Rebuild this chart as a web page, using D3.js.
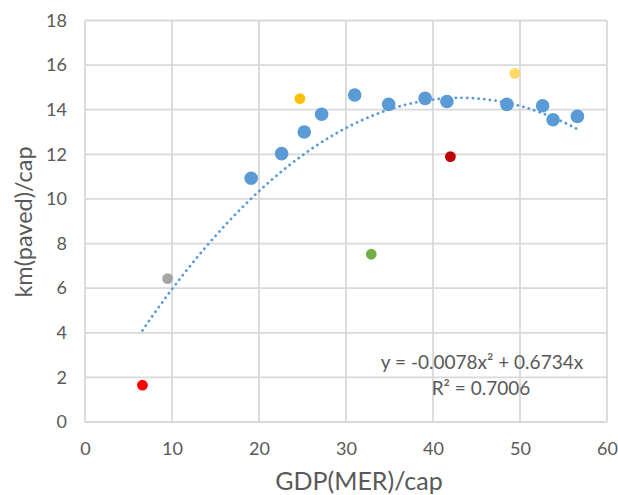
<!DOCTYPE html>
<html>
<head>
<meta charset="utf-8">
<script src="https://cdn.jsdelivr.net/npm/d3@7"></script>
<style>
  html, body { margin: 0; padding: 0; background: #fff; }
  svg { display: block; font-family: Lato, "Open Sans", sans-serif; }
</style>
</head>
<body>
<svg id="chart" width="618" height="495"></svg>
<script>
// GDP(MER) per capita vs paved km per capita, one group per marker colour
const blueX   = [19.1, 22.6, 25.2, 27.2, 31.0, 34.9, 39.1, 41.6, 48.5, 52.6, 53.8, 56.6];
const blueY   = [10.93, 12.03, 13.0, 13.8, 14.66, 14.24, 14.51, 14.37, 14.24, 14.18, 13.55, 13.7];
const orangeX = [24.7];
const orangeY = [14.5];
const goldX   = [49.4];
const goldY   = [15.63];
const redX    = [6.6];
const redY    = [1.65];
const darkRedX = [42.0];
const darkRedY = [11.9];
const grayX   = [9.5];
const grayY   = [6.43];
const greenX  = [32.9];
const greenY  = [7.52];

// polynomial trendline (order 2, through origin)
const trendA = -0.0078;
const trendB = 0.6734;
const trendRange = [6.6, 56.6];
const trendLabel = ["y = -0.0078x² + 0.6734x", "R² = 0.7006"];

const xTicks = [0, 10, 20, 30, 40, 50, 60];
const yTicks = [0, 2, 4, 6, 8, 10, 12, 14, 16, 18];

const svg = d3.select("#chart");
const plotL = 85, plotR = 607, plotT = 20.5, plotB = 422;

const x = d3.scaleLinear().domain([0, 60]).range([plotL, plotR]);
const y = d3.scaleLinear().domain([0, 18]).range([plotB, plotT]);

const grid = "#d9d9d9";
const textCol = "#595959";

// gridlines
svg.append("g").selectAll("line").data(xTicks).join("line")
  .attr("x1", d => x(d)).attr("x2", d => x(d))
  .attr("y1", plotT).attr("y2", plotB)
  .attr("stroke", grid).attr("stroke-width", 1.8);
svg.append("g").selectAll("line").data(yTicks).join("line")
  .attr("x1", plotL).attr("x2", plotR)
  .attr("y1", d => y(d)).attr("y2", d => y(d))
  .attr("stroke", grid).attr("stroke-width", 1.8);

// axes (labels only, lines come from the grid)
const xAxis = svg.append("g").attr("transform", `translate(0,${plotB})`)
  .call(d3.axisBottom(x).tickValues(xTicks).tickSize(0).tickPadding(20));
const yAxis = svg.append("g").attr("transform", `translate(${plotL},0)`)
  .call(d3.axisLeft(y).tickValues(yTicks).tickSize(0).tickPadding(18));
[xAxis, yAxis].forEach(a => {
  a.select(".domain").remove();
  a.selectAll("text").attr("fill", textCol).style("font-size", "18px")
    .style("font-family", "Lato, 'Open Sans', sans-serif");
});

// trendline
const tx = d3.range(trendRange[0], trendRange[1] + 0.01, 0.25);
svg.append("path")
  .datum(tx)
  .attr("d", d3.line().x(d => x(d)).y(d => y(trendA * d * d + trendB * d)))
  .attr("fill", "none")
  .attr("stroke", "#5b9bd5")
  .attr("stroke-width", 2.8)
  .attr("stroke-linecap", "round")
  .attr("stroke-dasharray", "0.1 5.6");

// markers
const groups = [
  { xs: blueX, ys: blueY, color: "#5b9bd5", r: 6.8 },
  { xs: orangeX, ys: orangeY, color: "#ffc000", r: 5.4 },
  { xs: goldX, ys: goldY, color: "#ffd966", r: 5.4 },
  { xs: redX, ys: redY, color: "#ff0000", r: 5.4 },
  { xs: darkRedX, ys: darkRedY, color: "#c00000", r: 5.4 },
  { xs: grayX, ys: grayY, color: "#a5a5a5", r: 5.4 },
  { xs: greenX, ys: greenY, color: "#70ad47", r: 5.4 }
];
groups.forEach(g => {
  svg.append("g").selectAll("circle")
    .data(g.xs.map((v, i) => [v, g.ys[i]]))
    .join("circle")
    .attr("cx", d => x(d[0])).attr("cy", d => y(d[1]))
    .attr("r", g.r).attr("fill", g.color);
});

// trendline equation
svg.append("text")
  .attr("x", 482).attr("y", 369)
  .attr("text-anchor", "middle")
  .attr("fill", textCol).style("font-size", "19px")
  .text(trendLabel[0]);
svg.append("text")
  .attr("x", 481).attr("y", 395)
  .attr("text-anchor", "middle")
  .attr("fill", textCol).style("font-size", "19px")
  .text(trendLabel[1]);

// axis titles
svg.append("text")
  .attr("x", 359).attr("y", 490)
  .attr("text-anchor", "middle")
  .attr("fill", textCol).style("font-size", "25px")
  .text("GDP(MER)/cap");
svg.append("text")
  .attr("transform", `translate(32,222) rotate(-90)`)
  .attr("text-anchor", "middle")
  .attr("fill", textCol).style("font-size", "23.5px")
  .text("km(paved)/cap");
</script>
</body>
</html>
